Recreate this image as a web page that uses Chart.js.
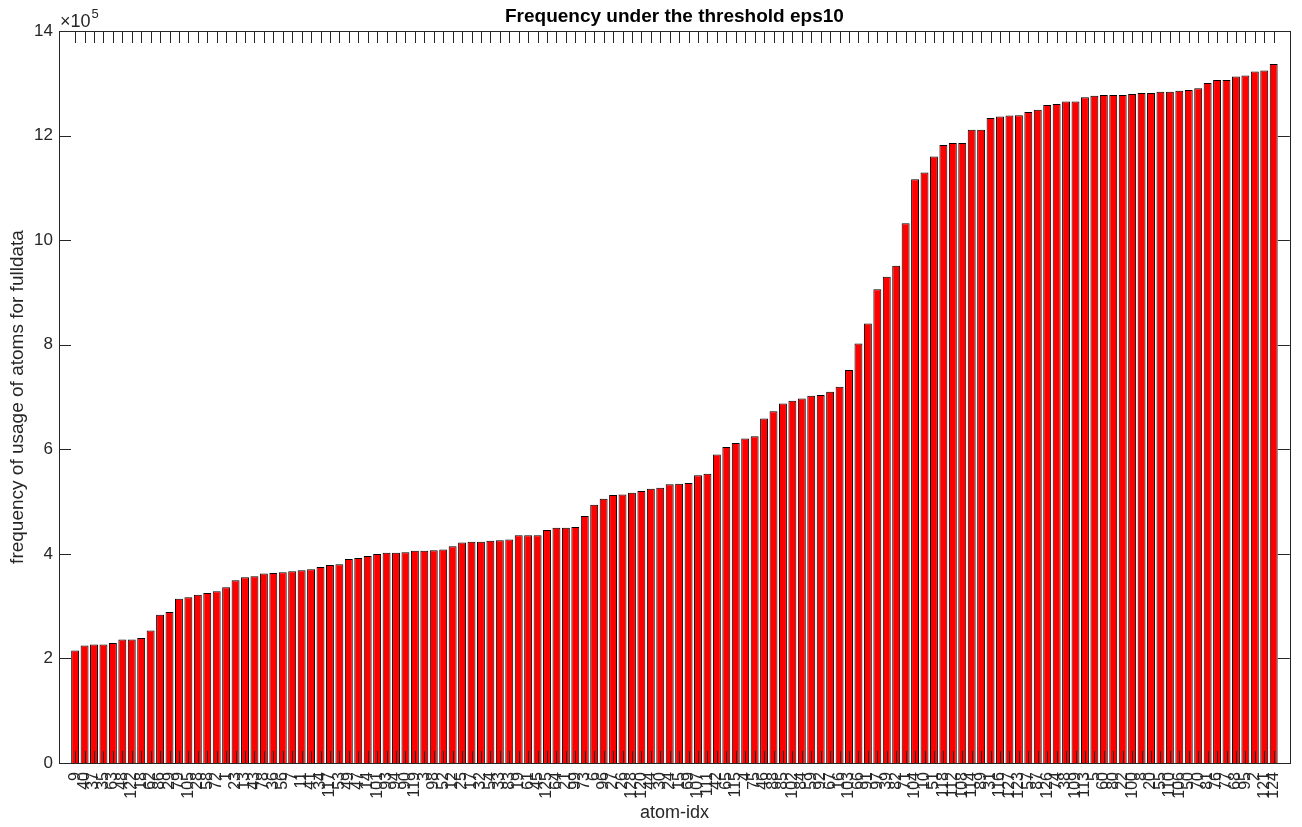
<!DOCTYPE html>
<html>
<head>
<meta charset="utf-8">
<title>Frequency under the threshold eps10</title>
<script src="https://cdn.jsdelivr.net/npm/chart.js@4.4.1/dist/chart.umd.min.js"></script>
<style>
  html, body { margin: 0; padding: 0; background: #fff; }
  #wrap { width: 1302px; height: 827px; }
</style>
</head>
<body>
<div id="wrap"><canvas id="chart" width="1302" height="827"></canvas></div>
<script>
// atom index of each bar, in sorted order (as labelled under the x axis)
const atomLabels = [
  "9", "40", "37", "35", "63", "48", "122", "18", "62", "86",
  "29", "79", "105", "28", "58", "72", "1", "23", "13", "43",
  "78", "36", "56", "7", "11", "41", "34", "117", "53", "49",
  "47", "14", "101", "93", "94", "90", "119", "3", "98", "52",
  "12", "25", "17", "32", "54", "33", "83", "19", "61", "45",
  "125", "64", "21", "99", "73", "6", "96", "27", "26", "128",
  "120", "44", "30", "24", "15", "69", "107", "111", "42", "65",
  "115", "4", "75", "46", "88", "85", "102", "84", "59", "92",
  "67", "16", "103", "66", "91", "97", "39", "82", "71", "104",
  "10", "51", "118", "112", "108", "114", "89", "31", "116", "127",
  "123", "57", "87", "126", "74", "38", "109", "113", "5", "60",
  "80", "22", "100", "8", "20", "55", "110", "106", "50", "70",
  "81", "76", "77", "68", "95", "2", "121", "124"
];

// usage count of each atom under eps10
const usageFreq = [
  215300, 224900, 226800, 226800, 229300, 236400, 236400, 238900, 253600, 283600,
  288800, 314300, 316800, 322000, 325200, 328400, 336100, 349600, 355300, 357200,
  362200, 363600, 364900, 366800, 368700, 370700, 375100, 378900, 380200, 390400,
  392300, 395800, 399700, 401900, 401900, 403200, 405800, 405800, 407000, 408300,
  414700, 421700, 423000, 423000, 424900, 426200, 427500, 435800, 435800, 435800,
  445400, 449900, 449900, 451200, 472300, 494000, 505500, 512500, 513700, 517000,
  520200, 524600, 526600, 532900, 534200, 535500, 550200, 553400, 589800, 604600,
  612200, 620500, 625000, 658900, 672900, 687600, 692800, 697200, 702400, 703600,
  710000, 719600, 751500, 802100, 840500, 906200, 929800, 950900, 1032200, 1116600,
  1129300, 1160000, 1181800, 1185600, 1185600, 1211100, 1211100, 1233500, 1236700, 1238600,
  1239000, 1245000, 1249500, 1258500, 1260400, 1265400, 1265400, 1273100, 1276300, 1277600,
  1277600, 1277600, 1279500, 1281500, 1281500, 1284000, 1284000, 1285900, 1287200, 1290400,
  1300700, 1306400, 1306400, 1312800, 1314700, 1322400, 1324300, 1337100
];

const yTicks = [0, 200000, 400000, 600000, 800000, 1000000, 1200000, 1400000];

const chartTitle = "Frequency under the threshold eps10";
const axisColor = "#262626";
const fontFamily = "'Liberation Sans', Arial, Helvetica, sans-serif";
const tickLen = 12;

// MATLAB-style box with inward ticks on all four sides, title over the axes
const matlabAxes = {
  id: "matlabAxes",
  afterDraw(chart) {
    const { ctx, chartArea: a, scales } = chart;
    ctx.save();
    ctx.strokeStyle = axisColor;
    ctx.lineWidth = 1;
    ctx.beginPath();
    atomLabels.forEach((_, i) => {
      const px = Math.round(scales.x.getPixelForValue(i + 1)) + 0.5;
      ctx.moveTo(px, a.bottom);
      ctx.lineTo(px, a.bottom - tickLen);
      ctx.moveTo(px, a.top);
      ctx.lineTo(px, a.top + tickLen);
    });
    yTicks.forEach((v) => {
      const py = Math.round(scales.y.getPixelForValue(v)) + 0.5;
      ctx.moveTo(a.left, py);
      ctx.lineTo(a.left + tickLen, py);
      ctx.moveTo(a.right, py);
      ctx.lineTo(a.right - tickLen, py);
    });
    ctx.stroke();
    ctx.strokeRect(Math.round(a.left) + 0.5, Math.round(a.top) + 0.5,
      Math.round(a.right - a.left), Math.round(a.bottom - a.top));

    // title
    ctx.fillStyle = "#000000";
    ctx.textAlign = "center";
    ctx.textBaseline = "alphabetic";
    ctx.font = "bold 19px " + fontFamily;
    ctx.fillText(chartTitle, (a.left + a.right) / 2, a.top - 9);

    // exponent label
    ctx.fillStyle = axisColor;
    ctx.textAlign = "left";
    ctx.font = "18px " + fontFamily;
    const base = "\u00d710";
    ctx.fillText(base, a.left + 1, a.top - 4);
    const w = ctx.measureText(base).width;
    ctx.font = "13px " + fontFamily;
    ctx.fillText("5", a.left + 1 + w + 1, a.top - 13);
    ctx.restore();
  }
};

new Chart(document.getElementById("chart"), {
  type: "bar",
  data: {
    datasets: [
      {
        data: usageFreq.map((v, i) => ({ x: i + 1, y: v })),
        backgroundColor: "#ff0000",
        borderColor: "#000000",
        borderWidth: 1,
        categoryPercentage: 1.0,
        barPercentage: 0.84,
      },
    ],
  },
  options: {
    responsive: false,
    devicePixelRatio: 1,
    animation: false,
    layout: { padding: { left: 0, right: 8, top: 31, bottom: 0 } },
    plugins: {
      legend: { display: false },
      tooltip: { enabled: false },
      title: { display: false },
    },
    scales: {
      x: {
        type: "linear",
        min: -0.2,
        max: 129.2,
        afterBuildTicks: (s) => {
          s.ticks = atomLabels.map((_, i) => ({ value: i + 1 }));
        },
        afterFit: (s) => {
          s.height = 64;
        },
        grid: { display: false, drawTicks: false },
        border: { display: false },
        ticks: {
          autoSkip: false,
          maxRotation: 90,
          minRotation: 90,
          padding: 9,
          color: axisColor,
          font: { family: fontFamily, size: 16 },
          callback: (v) => atomLabels[v - 1] || "",
        },
        title: {
          display: true,
          text: "atom-idx",
          color: axisColor,
          font: { family: fontFamily, size: 18 },
          padding: { top: 0, bottom: 3 },
        },
      },
      y: {
        min: 0,
        max: 1400000,
        afterBuildTicks: (s) => {
          s.ticks = yTicks.map((v) => ({ value: v }));
        },
        afterFit: (s) => {
          s.width = 59;
        },
        grid: { display: false, drawTicks: false },
        border: { display: false },
        ticks: {
          padding: 6,
          color: axisColor,
          font: { family: fontFamily, size: 17 },
          callback: (v) => String(v / 100000),
        },
        title: {
          display: true,
          text: "frequency of usage of atoms for fulldata",
          color: axisColor,
          font: { family: fontFamily, size: 19 },
          padding: { top: 6, bottom: 0 },
        },
      },
    },
  },
  plugins: [matlabAxes],
});
</script>
</body>
</html>
